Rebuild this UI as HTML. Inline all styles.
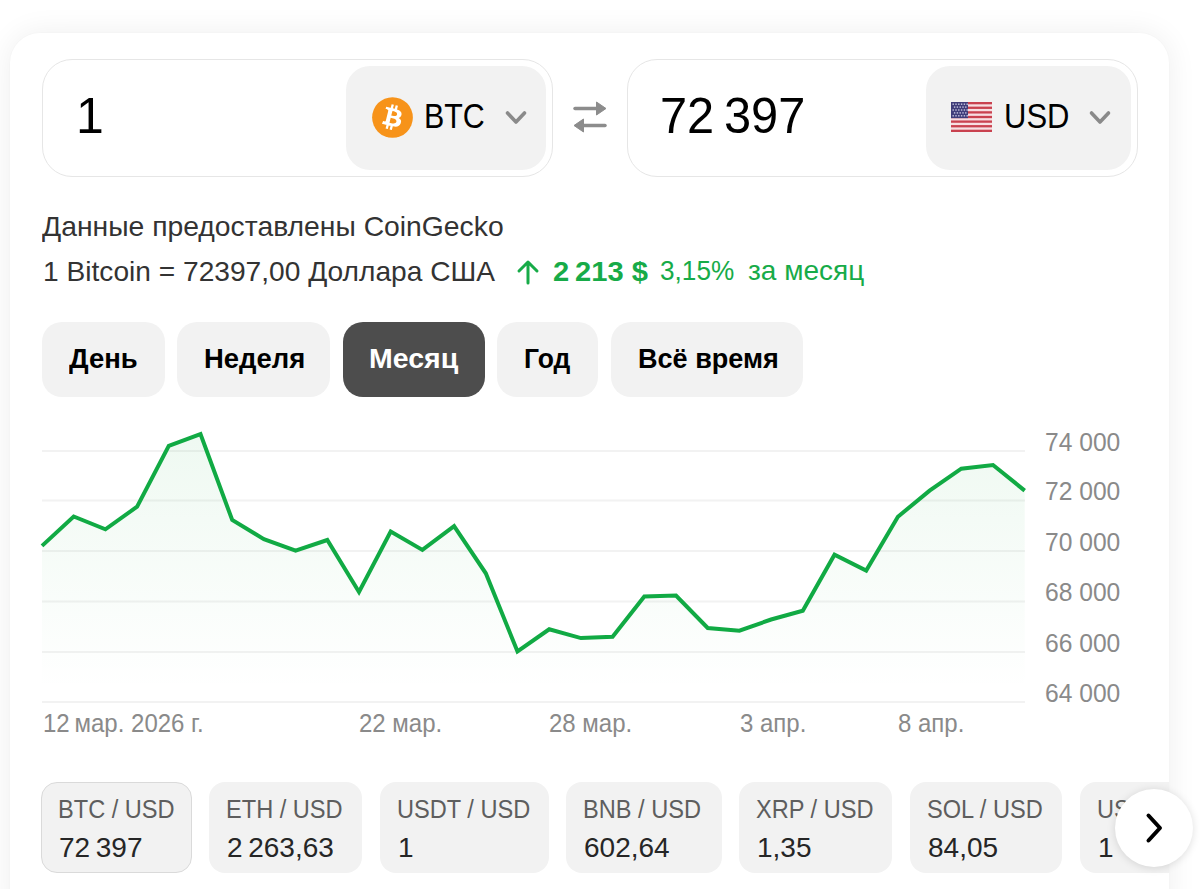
<!DOCTYPE html>
<html><head><meta charset="utf-8">
<style>
*{box-sizing:border-box;margin:0;padding:0}
html,body{width:1200px;height:889px;overflow:hidden;background:#fff;font-family:"Liberation Sans",sans-serif}
.card{position:absolute;left:10px;top:33px;width:1159px;height:900px;background:#fff;border-radius:30px;box-shadow:0 0 2px rgba(0,0,0,.03),0 0 30px rgba(0,0,0,.07);overflow:hidden}
.abs{position:absolute}
.inp{position:absolute;top:59px;height:118px;border:1px solid #e6e6e6;border-radius:30px;background:#fff}
.sel{position:absolute;top:6px;bottom:6px;background:#f2f2f2;border-radius:24px}
.t{position:absolute;white-space:nowrap;line-height:1;transform-origin:0 0}
.tab{position:absolute;top:322px;height:75px;border-radius:20px;background:#f2f2f2}
.pair{position:absolute;top:782px;height:91px;border-radius:16px;background:#f2f2f2}
</style></head><body>
<div class="card">
<div class="pair" style="left:31px;top:749px;width:151px;border:1px solid #dadada;"></div>
<div class="t" style="left:48px;top:762.8px;font-size:26px;color:#5e5e5e;font-weight:normal;transform:scaleX(0.907);">BTC / USD</div>
<div class="t" style="left:49px;top:800.7px;font-size:28px;color:#262626;font-weight:normal;">72&#8239;397</div>
<div class="pair" style="left:199px;top:749px;width:153px;"></div>
<div class="t" style="left:216px;top:762.8px;font-size:26px;color:#5e5e5e;font-weight:normal;transform:scaleX(0.907);">ETH / USD</div>
<div class="t" style="left:217px;top:800.7px;font-size:28px;color:#262626;font-weight:normal;">2&#8239;263,63</div>
<div class="pair" style="left:370px;top:749px;width:169px;"></div>
<div class="t" style="left:387px;top:762.8px;font-size:26px;color:#5e5e5e;font-weight:normal;transform:scaleX(0.907);">USDT / USD</div>
<div class="t" style="left:388px;top:800.7px;font-size:28px;color:#262626;font-weight:normal;">1</div>
<div class="pair" style="left:556px;top:749px;width:156px;"></div>
<div class="t" style="left:573px;top:762.8px;font-size:26px;color:#5e5e5e;font-weight:normal;transform:scaleX(0.907);">BNB / USD</div>
<div class="t" style="left:574px;top:800.7px;font-size:28px;color:#262626;font-weight:normal;">602,64</div>
<div class="pair" style="left:729px;top:749px;width:153px;"></div>
<div class="t" style="left:746px;top:762.8px;font-size:26px;color:#5e5e5e;font-weight:normal;transform:scaleX(0.907);">XRP / USD</div>
<div class="t" style="left:747px;top:800.7px;font-size:28px;color:#262626;font-weight:normal;">1,35</div>
<div class="pair" style="left:900px;top:749px;width:152px;"></div>
<div class="t" style="left:917px;top:762.8px;font-size:26px;color:#5e5e5e;font-weight:normal;transform:scaleX(0.907);">SOL / USD</div>
<div class="t" style="left:918px;top:800.7px;font-size:28px;color:#262626;font-weight:normal;">84,05</div>
<div class="pair" style="left:1070px;top:749px;width:170px;"></div>
<div class="t" style="left:1087px;top:762.8px;font-size:26px;color:#5e5e5e;font-weight:normal;transform:scaleX(0.907);">USDT / USD</div>
<div class="t" style="left:1088px;top:800.7px;font-size:28px;color:#262626;font-weight:normal;">1</div>
</div>
<div class="inp" style="left:42px;width:511px"><div class="sel" style="left:303px;right:6px"></div></div>
<div class="inp" style="left:627px;width:511px"><div class="sel" style="left:298px;right:6px"></div></div>
<div class="t" style="left:76px;top:91.0px;font-size:50px;color:#000;font-weight:normal;">1</div>
<div class="t" style="left:660px;top:91.0px;font-size:50px;color:#000;font-weight:normal;transform:scaleX(0.975);">72&#8239;397</div>
<svg class="abs" style="left:371.5px;top:96.5px" width="41" height="41" viewBox="0 0 64 64">
  <circle cx="32" cy="32" r="31.8" fill="#f7931a"/>
  <path fill="#fff" d="m46.103,27.444c0.637-4.258-2.605-6.547-7.038-8.074l1.438-5.768-3.511-0.875-1.4,5.616c-0.923-0.23-1.871-0.447-2.813-0.662l1.41-5.653-3.509-0.875-1.439,5.766c-0.764-0.174-1.514-0.346-2.242-0.527l0.004-0.018-4.842-1.209-0.934,3.75s2.605,0.597,2.55,0.634c1.422,0.355,1.679,1.296,1.636,2.042l-1.638,6.571c0.098,0.025,0.225,0.061,0.365,0.117-0.117-0.029-0.242-0.061-0.371-0.092l-2.296,9.205c-0.174,0.432-0.615,1.08-1.609,0.834,0.035,0.051-2.552-0.637-2.552-0.637l-1.743,4.019,4.569,1.139c0.85,0.213,1.683,0.436,2.503,0.646l-1.453,5.834,3.507,0.875,1.439-5.772c0.958,0.26,1.888,0.5,2.798,0.726l-1.434,5.745,3.511,0.875,1.453-5.823c5.987,1.133,10.489,0.676,12.384-4.739,1.527-4.36-0.076-6.875-3.226-8.515,2.294-0.529,4.022-2.038,4.483-5.155zm-8.022,11.249c-1.085,4.36-8.426,2.003-10.806,1.412l1.928-7.729c2.38,0.594,10.012,1.77,8.878,6.317zm1.086-11.312c-0.99,3.966-7.1,1.951-9.082,1.457l1.748-7.01c1.982,0.494,8.365,1.416,7.334,5.553z"/>
</svg>
<div class="t" style="left:424px;top:98.4px;font-size:35px;color:#000;font-weight:normal;transform:scaleX(0.868);">BTC</div>
<svg class="abs" style="left:504px;top:108px" width="24" height="20" viewBox="0 0 24 20"><path d="M3.5 5 L12 14 L20.5 5" fill="none" stroke="#8a8a8a" stroke-width="3.6" stroke-linecap="round" stroke-linejoin="round"/></svg>
<svg class="abs" style="left:570px;top:100px" width="40" height="35" viewBox="0 0 40 35">
  <path d="M5 8.5 H32" stroke="#8c8c8c" stroke-width="3.5" stroke-linecap="round"/>
  <path d="M26.5 2 L36 8.5 L26.5 15 Z" fill="#8c8c8c" stroke="#8c8c8c" stroke-width="1" stroke-linejoin="round"/>
  <path d="M8 25.5 H35" stroke="#8c8c8c" stroke-width="3.5" stroke-linecap="round"/>
  <path d="M13.5 19 L4 25.5 L13.5 32 Z" fill="#8c8c8c" stroke="#8c8c8c" stroke-width="1" stroke-linejoin="round"/>
</svg>
<svg class="abs" style="left:951px;top:102px" width="41" height="30" viewBox="0 0 41 30">
  <rect width="41" height="30" fill="#f7dfe2"/>
  <g fill="#c9424f"><rect y="0.00" width="41" height="2.31"/><rect y="4.62" width="41" height="2.31"/><rect y="9.23" width="41" height="2.31"/><rect y="13.85" width="41" height="2.31"/><rect y="18.46" width="41" height="2.31"/><rect y="23.08" width="41" height="2.31"/><rect y="27.69" width="41" height="2.31"/></g>
  <rect width="17" height="16.15" fill="#403e7a"/>
  <g fill="#c8c7e0"><rect x="1.5" y="1.5" width="1.4" height="1.4"/><rect x="4.3" y="1.5" width="1.4" height="1.4"/><rect x="7.1" y="1.5" width="1.4" height="1.4"/><rect x="9.9" y="1.5" width="1.4" height="1.4"/><rect x="12.7" y="1.5" width="1.4" height="1.4"/><rect x="15.5" y="1.5" width="1.4" height="1.4"/><rect x="2.9" y="4.4" width="1.4" height="1.4"/><rect x="5.7" y="4.4" width="1.4" height="1.4"/><rect x="8.5" y="4.4" width="1.4" height="1.4"/><rect x="11.3" y="4.4" width="1.4" height="1.4"/><rect x="14.1" y="4.4" width="1.4" height="1.4"/><rect x="1.5" y="7.3" width="1.4" height="1.4"/><rect x="4.3" y="7.3" width="1.4" height="1.4"/><rect x="7.1" y="7.3" width="1.4" height="1.4"/><rect x="9.9" y="7.3" width="1.4" height="1.4"/><rect x="12.7" y="7.3" width="1.4" height="1.4"/><rect x="15.5" y="7.3" width="1.4" height="1.4"/><rect x="2.9" y="10.2" width="1.4" height="1.4"/><rect x="5.7" y="10.2" width="1.4" height="1.4"/><rect x="8.5" y="10.2" width="1.4" height="1.4"/><rect x="11.3" y="10.2" width="1.4" height="1.4"/><rect x="14.1" y="10.2" width="1.4" height="1.4"/><rect x="1.5" y="13.1" width="1.4" height="1.4"/><rect x="4.3" y="13.1" width="1.4" height="1.4"/><rect x="7.1" y="13.1" width="1.4" height="1.4"/><rect x="9.9" y="13.1" width="1.4" height="1.4"/><rect x="12.7" y="13.1" width="1.4" height="1.4"/><rect x="15.5" y="13.1" width="1.4" height="1.4"/></g>
</svg>
<div class="t" style="left:1004px;top:98.0px;font-size:35px;color:#000;font-weight:normal;transform:scaleX(0.886);">USD</div>
<svg class="abs" style="left:1088px;top:108px" width="24" height="20" viewBox="0 0 24 20"><path d="M3.5 5 L12 14 L20.5 5" fill="none" stroke="#8a8a8a" stroke-width="3.6" stroke-linecap="round" stroke-linejoin="round"/></svg>
<div class="t" style="left:42px;top:212.7px;font-size:28px;color:#333;font-weight:normal;transform:scaleX(1.011);">Данные предоставлены CoinGecko</div>
<div class="t" style="left:43px;top:257.7px;font-size:28px;color:#333;font-weight:normal;transform:scaleX(1.005);">1 Bitcoin = 72397,00 Доллара США</div>
<svg class="abs" style="left:514px;top:258px" width="28" height="28" viewBox="0 0 28 28"><path d="M14 4 V25 M5 13 L14 4 L23 13" fill="none" stroke="#17ab48" stroke-width="3" stroke-linecap="round" stroke-linejoin="round"/></svg>
<div class="t" style="left:553px;top:257.5px;font-size:28px;color:#17ab48;font-weight:bold;transform:scaleX(1.04);">2&#8239;213 $</div>
<div class="t" style="left:660px;top:256.7px;font-size:28px;color:#17ab48;font-weight:normal;transform:scaleX(0.935);">3,15%</div>
<div class="t" style="left:748px;top:256.7px;font-size:28px;color:#17ab48;font-weight:normal;">за месяц</div>
<div class="tab" style="left:42px;width:123px;"></div>
<div class="t" style="left:69px;top:344.7px;font-size:28px;color:#000;font-weight:bold;transform:scaleX(0.98);">День</div>
<div class="tab" style="left:177px;width:153px;"></div>
<div class="t" style="left:204px;top:344.7px;font-size:28px;color:#000;font-weight:bold;transform:scaleX(0.98);">Неделя</div>
<div class="tab" style="left:343px;width:142px;background:#4d4d4d;"></div>
<div class="t" style="left:369px;top:344.7px;font-size:28px;color:#fff;font-weight:bold;transform:scaleX(1.017);">Месяц</div>
<div class="tab" style="left:497px;width:101px;"></div>
<div class="t" style="left:523.5px;top:344.7px;font-size:28px;color:#000;font-weight:bold;transform:scaleX(0.945);">Год</div>
<div class="tab" style="left:611px;width:192px;"></div>
<div class="t" style="left:638px;top:344.7px;font-size:28px;color:#000;font-weight:bold;transform:scaleX(0.966);">Всё время</div>
<svg class="abs" style="left:0;top:0" width="1200" height="889" viewBox="0 0 1200 889">
  <defs>
    <linearGradient id="gf" x1="0" y1="434" x2="0" y2="690" gradientUnits="userSpaceOnUse">
      <stop offset="0" stop-color="#14a83e" stop-opacity=".07"/>
      <stop offset="1" stop-color="#14a83e" stop-opacity="0"/>
    </linearGradient>
  </defs>
  <g stroke="#f2f2f2" stroke-width="2">
    <line x1="42" y1="451" x2="1025" y2="451"/>
    <line x1="42" y1="500.5" x2="1025" y2="500.5"/>
    <line x1="42" y1="551" x2="1025" y2="551"/>
    <line x1="42" y1="601.5" x2="1025" y2="601.5"/>
    <line x1="42" y1="652" x2="1025" y2="652"/>
    <line x1="42" y1="702" x2="1025" y2="702"/>
  </g>
  <polygon fill="url(#gf)" points="42.0,545.9 73.7,516.5 105.4,529.3 137.1,506.7 168.8,445.9 200.5,434.1 232.2,520.0 263.9,539.2 295.6,550.7 327.3,540.0 359.0,592.0 390.7,531.5 422.4,549.9 454.1,526.1 485.8,573.3 517.5,651.5 549.2,629.3 580.9,638.1 612.6,636.8 644.3,596.5 676.0,595.5 707.7,628.0 739.4,630.7 771.1,619.5 802.8,610.7 834.5,554.7 866.2,570.6 897.9,516.8 929.6,490.6 961.3,468.7 993.0,465.0 1024.7,490.6 1024.7,702 42,702"/>
  <polyline fill="none" stroke="#11aa44" stroke-width="4" stroke-linejoin="miter" points="42.0,545.9 73.7,516.5 105.4,529.3 137.1,506.7 168.8,445.9 200.5,434.1 232.2,520.0 263.9,539.2 295.6,550.7 327.3,540.0 359.0,592.0 390.7,531.5 422.4,549.9 454.1,526.1 485.8,573.3 517.5,651.5 549.2,629.3 580.9,638.1 612.6,636.8 644.3,596.5 676.0,595.5 707.7,628.0 739.4,630.7 771.1,619.5 802.8,610.7 834.5,554.7 866.2,570.6 897.9,516.8 929.6,490.6 961.3,468.7 993.0,465.0 1024.7,490.6"/>
</svg>
<div class="t" style="left:1045px;top:429.8px;font-size:25px;color:#8a8a8a;font-weight:normal;transform:scaleX(0.985);">74 000</div>
<div class="t" style="left:1045px;top:479.3px;font-size:25px;color:#8a8a8a;font-weight:normal;transform:scaleX(0.985);">72 000</div>
<div class="t" style="left:1045px;top:529.8px;font-size:25px;color:#8a8a8a;font-weight:normal;transform:scaleX(0.985);">70 000</div>
<div class="t" style="left:1045px;top:580.3px;font-size:25px;color:#8a8a8a;font-weight:normal;transform:scaleX(0.985);">68 000</div>
<div class="t" style="left:1045px;top:630.8px;font-size:25px;color:#8a8a8a;font-weight:normal;transform:scaleX(0.985);">66 000</div>
<div class="t" style="left:1045px;top:680.8px;font-size:25px;color:#8a8a8a;font-weight:normal;transform:scaleX(0.985);">64 000</div>
<div class="t" style="left:42.5px;top:710.7px;font-size:25px;color:#8a8a8a;font-weight:normal;transform:scaleX(0.96);">12&#8239;мар. 2026 г.</div>
<div class="t" style="left:358.5px;top:710.7px;font-size:25px;color:#8a8a8a;font-weight:normal;transform:scaleX(0.96);">22 мар.</div>
<div class="t" style="left:548.5px;top:710.7px;font-size:25px;color:#8a8a8a;font-weight:normal;transform:scaleX(0.96);">28 мар.</div>
<div class="t" style="left:739.5px;top:710.7px;font-size:25px;color:#8a8a8a;font-weight:normal;transform:scaleX(0.96);">3 апр.</div>
<div class="t" style="left:897.5px;top:710.7px;font-size:25px;color:#8a8a8a;font-weight:normal;transform:scaleX(0.96);">8 апр.</div>
<div class="abs" style="left:1115px;top:789px;width:78px;height:78px;border-radius:50%;background:#fff;box-shadow:0 1px 8px rgba(0,0,0,.13)"></div>
<svg class="abs" style="left:1140px;top:810px" width="28" height="36" viewBox="0 0 28 36"><path d="M8.5 5.5 L20 18 L8.5 30.5" fill="none" stroke="#000" stroke-width="4" stroke-linecap="round" stroke-linejoin="round"/></svg>
</body></html>
